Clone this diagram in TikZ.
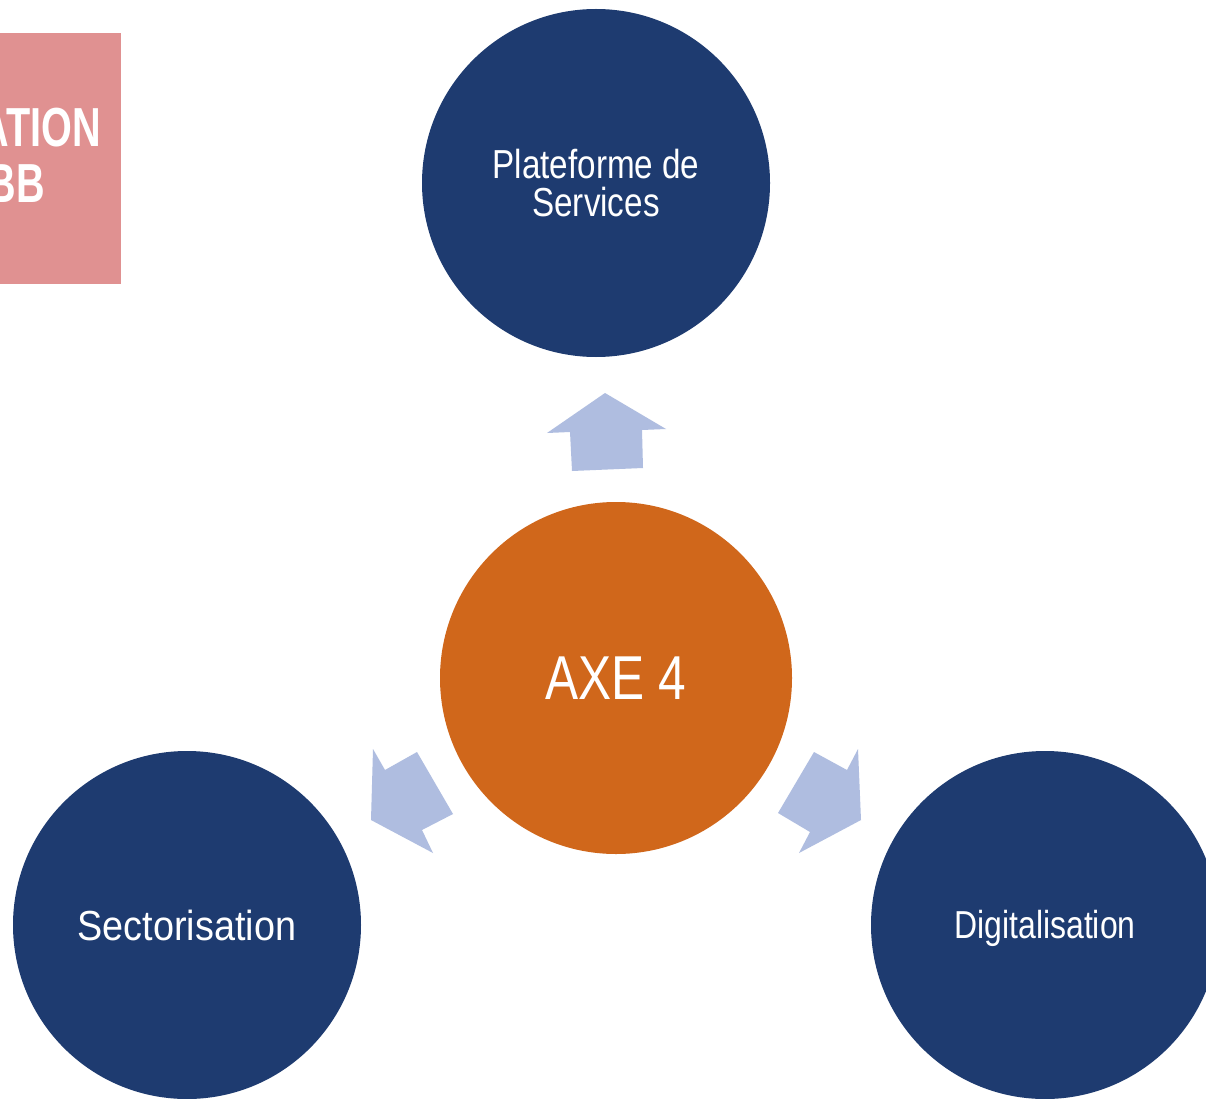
\documentclass[tikz,border=0pt]{standalone}
\usepackage{fontspec}
\setmainfont{Liberation Sans}
\newfontfamily\narrowfont[FakeStretch=0.82]{Liberation Sans}
\newfontfamily\widerfont[FakeStretch=0.90]{Liberation Sans}
\newfontfamily\axefont[FakeStretch=0.80]{Liberation Sans}
\newfontfamily\boxfont[FakeStretch=0.72]{Liberation Sans}
\definecolor{navy}{HTML}{1E3B70}
\definecolor{axeorange}{HTML}{D0671B}
\definecolor{arrowblue}{HTML}{AFBDE0}
\definecolor{pinkbox}{HTML}{E09191}
\tikzset{
  bubble/.style={circle, inner sep=0pt, text=white, align=center},
  bluebubble/.style={bubble, fill=navy, minimum size=348pt},
  axebubble/.style={bubble, fill=axeorange, minimum size=352pt},
  fatarrow/.style={fill=arrowblue, draw=none},
  boxtext/.style={text=white, inner sep=0pt, anchor=base east, font=\boxfont\bfseries\fontsize{55}{55}\selectfont}
}
\begin{document}
\begin{tikzpicture}[x=1pt,y=-1pt]
\useasboundingbox (0,0) rectangle (1206,1099);
\fill[white] (0,0) rectangle (1206,1099);
% pink box
\fill[pinkbox] (0,33) rectangle (121,284);
\node[boxtext] (boxa) at (101,147) {ATION};
\node[boxtext] (boxb) at (45,203) {BB};
% circles
\node[bluebubble, font=\narrowfont\fontsize{40.5}{38}\selectfont] (plat) at (596,183) {Plateforme de\\Services};
\node[axebubble, font=\axefont\fontsize{62}{62}\selectfont] (axe) at (616,678) {AXE 4};
\node[bluebubble, font=\widerfont\fontsize{42}{42}\selectfont] (sect) at (187,925) {Sectorisation};
\node[bluebubble, minimum size=348pt] (digi) at (1045,925) {};
\node[text=white, inner sep=0pt, font=\narrowfont\fontsize{39}{39}\selectfont] (digitext) at (1045,928) {Digitalisation};
% arrows
\fill[fatarrow] (605,393) -- (666,429) -- (642,430) -- (643,468) -- (572,471) -- (570,432) -- (547,433) -- cycle;
\fill[fatarrow] (373,749) -- (385,770) -- (417,752) -- (453,814) -- (422,830) -- (433,853) -- (371,820) -- cycle;
\fill[fatarrow] (858,749) -- (861,820) -- (799,853) -- (810,832) -- (778,813) -- (814,752) -- (847,770) -- cycle;
\end{tikzpicture}
\end{document}
